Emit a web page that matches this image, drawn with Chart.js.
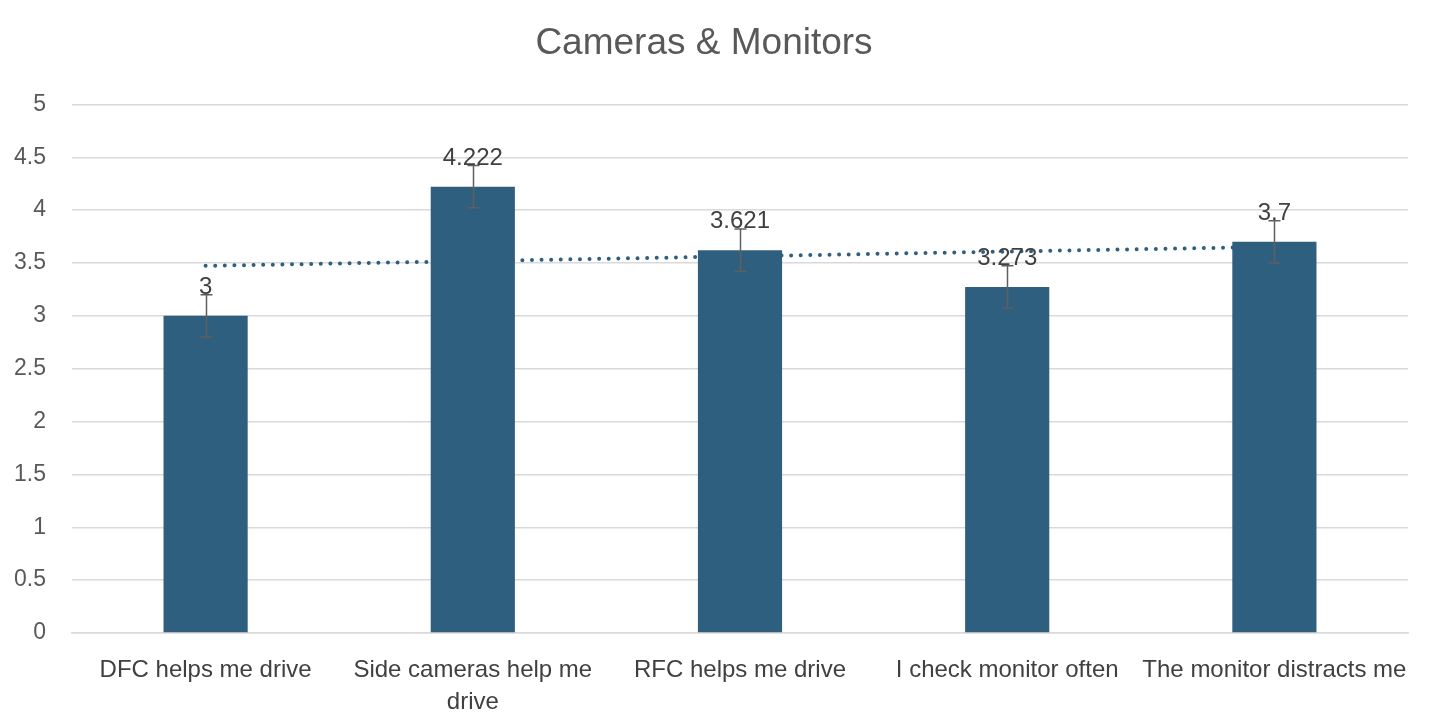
<!DOCTYPE html>
<html>
<head>
<meta charset="utf-8">
<script src="https://cdn.jsdelivr.net/npm/chart.js@4.4.1/dist/chart.umd.min.js"></script>
<style>
  html, body { margin: 0; padding: 0; background: #fff; }
  #wrap { width: 1432px; height: 724px; }
</style>
</head>
<body>
<div id="wrap"><canvas id="camChart"></canvas></div>
<script>
const categories = [
    'DFC helps me drive',
    ['Side cameras help me', 'drive'],
    'RFC helps me drive',
    'I check monitor often',
    'The monitor distracts me'
];
const means = [3, 4.222, 3.621, 3.273, 3.7];
const errors = [0.2, 0.2, 0.2, 0.2, 0.2];
// linear trendline
const trend = [3.473, 3.518, 3.563, 3.608, 3.653];
const yTicks = [0, 0.5, 1, 1.5, 2, 2.5, 3, 3.5, 4, 4.5, 5];
const yTickLabels = ['0', '0.5', '1', '1.5', '2', '2.5', '3', '3.5', '4', '4.5', '5'];

const barColor = '#2e5f7e';

// error bars + value labels drawn on top of the bars
const extrasPlugin = {
    id: 'extras',
    afterDatasetsDraw(chart) {
        const ctx = chart.ctx;
        const meta = chart.getDatasetMeta(1);
        const y = chart.scales.y;
        ctx.save();
        ctx.strokeStyle = '#5f5f5f';
        ctx.lineWidth = 1.5;
        meta.data.forEach((bar, i) => {
            const x = Math.round(bar.x) + 0.5;
            const hi = y.getPixelForValue(means[i] + errors[i]);
            const lo = y.getPixelForValue(means[i] - errors[i]);
            ctx.beginPath();
            ctx.moveTo(x, hi);
            ctx.lineTo(x, lo);
            ctx.moveTo(x - 6, lo);
            ctx.lineTo(x + 6, lo);
            ctx.moveTo(x - 6, hi);
            ctx.lineTo(x + 6, hi);
            ctx.stroke();
        });
        ctx.fillStyle = '#404040';
        ctx.font = '24px "Liberation Sans", Arial, sans-serif';
        ctx.textAlign = 'center';
        ctx.textBaseline = 'alphabetic';
        meta.data.forEach((bar, i) => {
            ctx.fillText(String(means[i]), bar.x, bar.y - 22);
        });
        ctx.restore();
    }
};

const ctx = document.getElementById('camChart').getContext('2d');
Chart.defaults.font.family = '"Liberation Sans", Arial, sans-serif';

new Chart(ctx, {
    type: 'bar',
    data: {
        labels: categories,
        datasets: [{
            type: 'line',
            data: trend,
            borderColor: barColor,
            borderWidth: 4,
            borderDash: [0, 9.6],
            borderCapStyle: 'round',
            pointRadius: 0,
            fill: false,
            order: 2
        }, {
            type: 'bar',
            data: means,
            backgroundColor: barColor,
            barPercentage: 0.315,
            categoryPercentage: 1,
            order: 1
        }]
    },
    options: {
        responsive: true,
        maintainAspectRatio: false,
        animation: false,
        layout: { padding: { left: 0, right: 24, top: 0, bottom: 0 } },
        plugins: {
            legend: { display: false },
            tooltip: { enabled: false },
            title: {
                display: true,
                text: 'Cameras & Monitors',
                color: '#595959',
                font: { size: 37, weight: 'normal' },
                padding: { top: 22, bottom: 38 }
            }
        },
        scales: {
            x: {
                afterFit(axis) { axis.height = 91; },
                grid: { display: false },
                border: { color: '#d9d9d9', width: 1.5 },
                ticks: {
                    color: '#404040',
                    font: { size: 24, lineHeight: 1.33 },
                    padding: 13,
                    maxRotation: 0,
                    autoSkip: false
                }
            },
            y: {
                min: 0,
                max: 5,
                afterBuildTicks(axis) {
                    axis.ticks = yTicks.map(v => ({ value: v }));
                },
                afterFit(axis) { axis.width = 72; },
                grid: { color: '#d9d9d9', lineWidth: 1.5, drawTicks: false },
                border: { display: false },
                ticks: {
                    color: '#595959',
                    font: { size: 23 },
                    padding: 26,
                    callback: (v, i) => yTickLabels[i]
                }
            }
        }
    },
    plugins: [extrasPlugin]
});
</script>
</body>
</html>
